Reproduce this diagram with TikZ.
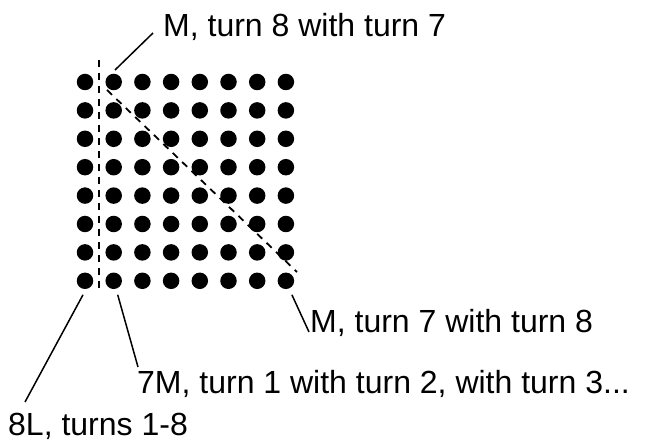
\documentclass[tikz,border=0pt]{standalone}
\usepackage{fontspec}
\setmainfont{Liberation Sans}
\begin{document}
\begin{tikzpicture}[x=1pt,y=-1pt,
 dot/.style={circle,fill=black,inner sep=0pt,minimum size=16.5pt},
 lbl/.style={anchor=base west,inner sep=0pt,font=\fontsize{32}{38}\selectfont},
 leader/.style={line width=1.5pt},
 dashline/.style={line width=1.8pt,dash pattern=on 7pt off 6pt}]
\useasboundingbox (0,0) rectangle (656,446);
\foreach \c in {1,...,8} {
  \foreach \r in {1,...,8} {
    \node[dot] (d\c\r) at ({85+28.7*(\c-1)},{82+28.4*(\r-1)}) {};
  }
}
% dashed guide lines
\coordinate (v1) at (99,60);
\coordinate (v2) at (99,293);
\coordinate (g1) at (107,90);
\coordinate (g2) at (297,272);
\draw[dashline] (v1) -- (v2);
\draw[dashline] (g1) -- (g2);
% labels
\node[lbl] (t1) at (163,37) {M, turn 8 with turn 7};
\node[lbl] (t2) at (310,333) {M, turn 7 with turn 8};
\node[lbl] (t3) at (137,393) {7M, turn 1 with turn 2, with turn 3...};
\node[lbl] (t4) at (8,435) {8L, turns 1-8};
% leader ends
\coordinate (e1) at (153,33);
\coordinate (e2) at (309,332);
\coordinate (e3) at (138,367);
\coordinate (e4) at (25,402);
\draw[leader] (d21) ++(1.3,-12) -- (e1);
\draw[leader] (d88) ++(6,14) -- (e2);
\draw[leader] (d28) ++(4,14) -- (e3);
\draw[leader] (d18) ++(-2,14) -- (e4);
\end{tikzpicture}
\end{document}
